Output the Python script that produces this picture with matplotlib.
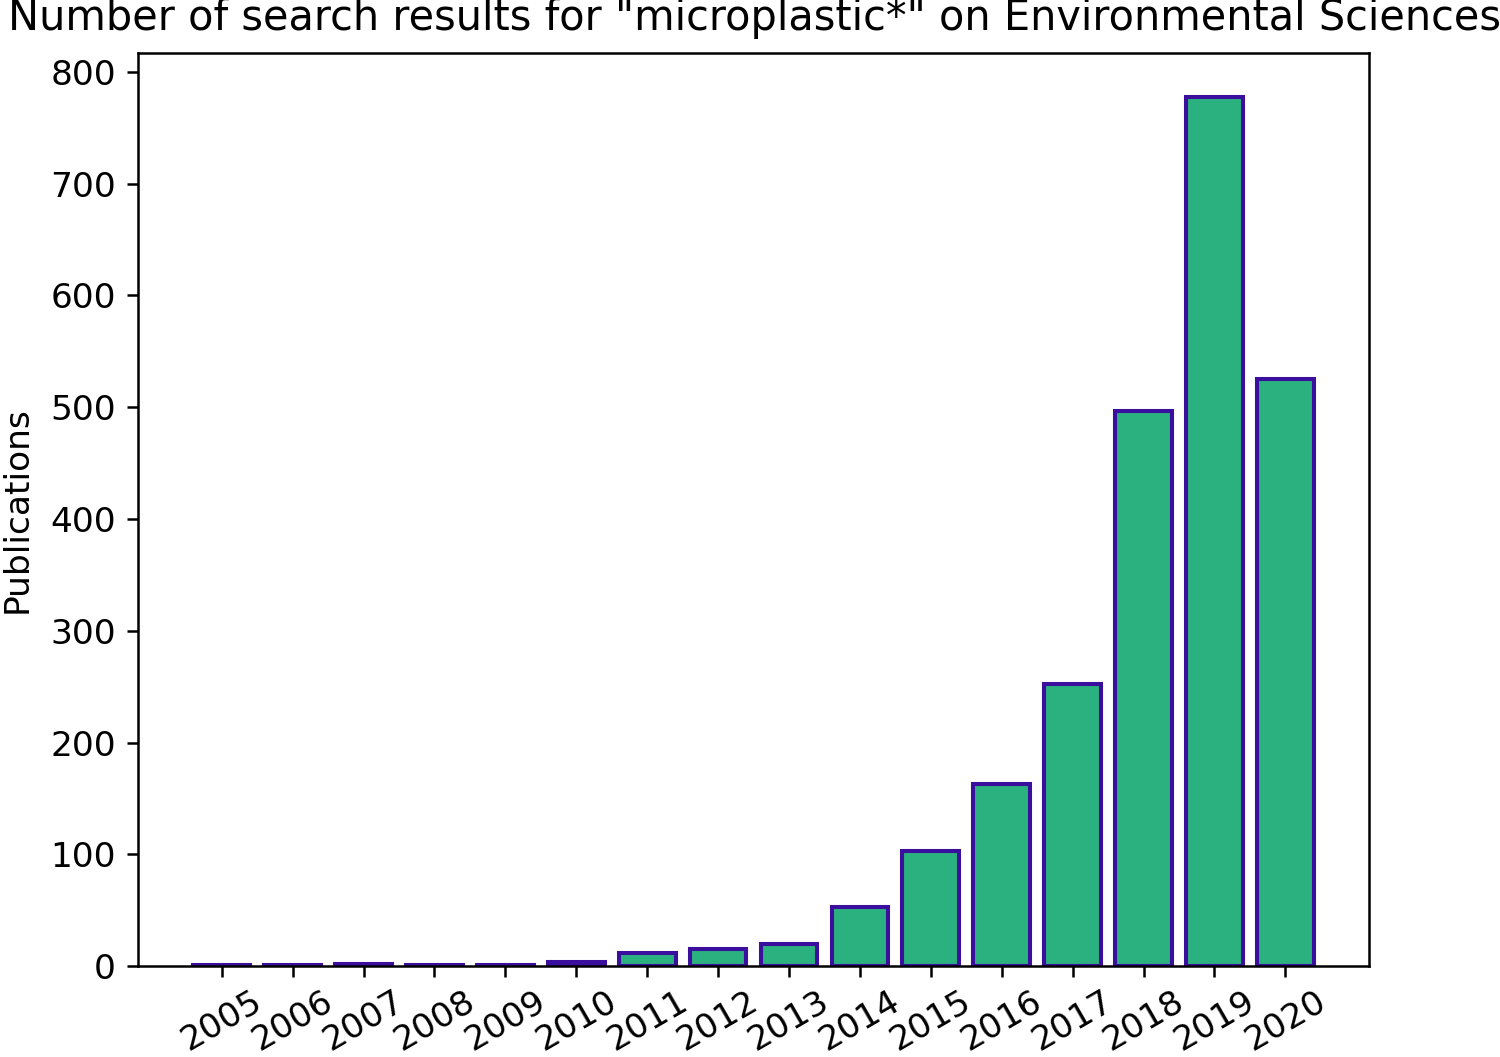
import numpy as np
import matplotlib
matplotlib.use("Agg")
import matplotlib.pyplot as plt

# Publications per year
years = ["2005", "2006", "2007", "2008", "2009", "2010", "2011", "2012",
         "2013", "2014", "2015", "2016", "2017", "2018", "2019", "2020"]
counts = [1, 1, 2, 1, 1, 4, 12, 15, 20, 53, 103, 163, 252, 497, 778, 525]

fig = plt.figure(figsize=(1500 / 225, 1057 / 225), dpi=225)
ax = fig.add_axes([0.092, 0.086, 0.8207, 0.8639])

x = np.arange(len(years))
ax.bar(x, counts, width=0.8, color="#2bb07f", edgecolor="#3a0f9e", linewidth=1.3)

ax.set_xticks(x)
ax.set_xticklabels(years, rotation=30, fontsize=11)
ax.tick_params(axis="x", pad=2.5)
ax.set_xlim(-1.18, 16.18)
ax.set_ylim(0, 817)
ax.set_yticks(np.arange(0, 801, 100))
ax.tick_params(axis="y", labelsize=11)
ax.set_ylabel("Publications", fontsize=11)
ax.yaxis.set_label_coords(-0.085, 0.5)

fig.text(0.503, 0.983, 'Number of search results for "microplastic*" on Environmental Sciences',
         ha="center", va="center", fontsize=13.3)

fig.savefig("out.png", dpi=225)
